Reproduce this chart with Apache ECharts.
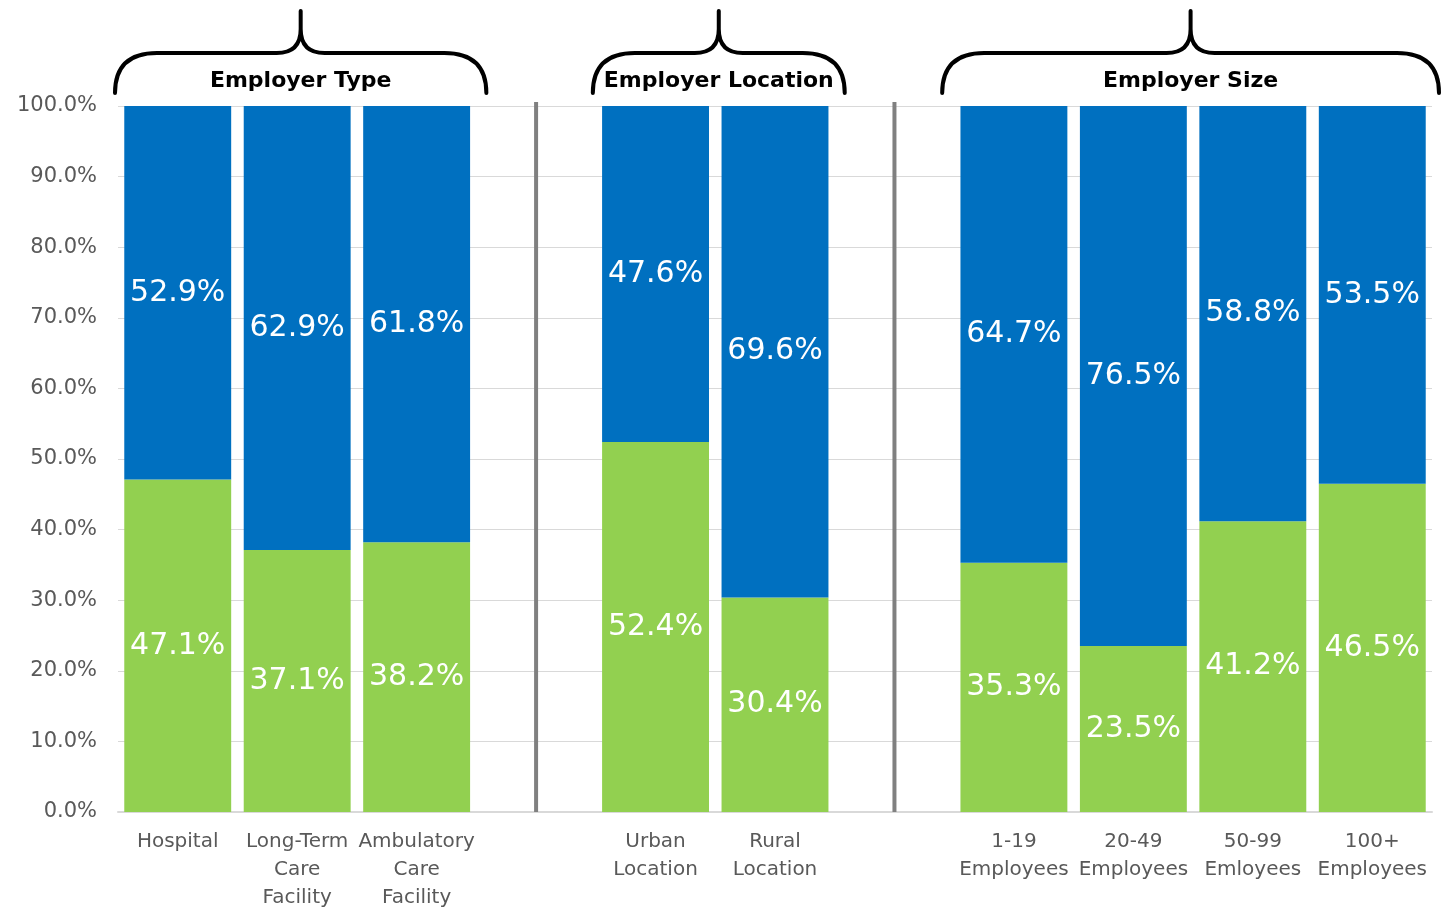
<!DOCTYPE html>
<html>
<head>
<meta charset="utf-8">
<script src="https://cdn.jsdelivr.net/npm/echarts@6/dist/echarts.min.js"></script>
<style>
  html, body { margin: 0; padding: 0; background: #ffffff; }
  #chart { width: 1444px; height: 907px; }
</style>
</head>
<body>
<div id="chart"></div>
<script>
// Categories; the blank entries are spacer slots holding the group dividers.
const categories = [
  'Hospital', 'Long-Term\nCare\nFacility', 'Ambulatory\nCare\nFacility',
  '',
  'Urban\nLocation', 'Rural\nLocation',
  ' ',
  '1-19\nEmployees', '20-49\nEmployees', '50-99\nEmloyees', '100+\nEmployees'
];

// Lower (green) and upper (blue) shares, in percent.
const greenValues = [47.1, 37.1, 38.2, null, 52.4, 30.4, null, 35.3, 23.5, 41.2, 46.5];
const blueValues  = [52.9, 62.9, 61.8, null, 47.6, 69.6, null, 64.7, 76.5, 58.8, 53.5];

// Y-axis ticks (percent).
const yTicks = [0, 10, 20, 30, 40, 50, 60, 70, 80, 90, 100];

// Group headings and the first/last category index each one spans.
const groupTitles = ['Employer Type', 'Employer Location', 'Employer Size'];
const groupStart = [0, 4, 7];
const groupEnd = [2, 5, 10];

// Spacer slots where divider lines are drawn.
const dividerSlots = [3, 6];

const FONT = 'DejaVu Sans';
const chart = echarts.init(document.getElementById('chart'), null, { renderer: 'canvas' });

const labelStyle = {
  show: true,
  position: 'inside',
  color: '#ffffff',
  fontFamily: FONT,
  fontSize: 30,
  formatter: p => (p.value == null ? '' : p.value.toFixed(1) + '%')
};

// Curly brace outline: ends at yb, shoulders at yh, tip at yt.
function bracePath(L, R, P, yb, yh, yt) {
  const r = 42, c = 24;
  return [
    'M', L, yb,
    'Q', L, yh, L + r, yh,
    'L', P - c, yh,
    'Q', P, yh, P, yh - c,
    'L', P, yt,
    'M', P, yt,
    'L', P, yh - c,
    'Q', P, yh, P + c, yh,
    'L', R - r, yh,
    'Q', R, yh, R, yb
  ].join(' ');
}

const bracePads = [[3, 10], [3, 10], [12, 7]];

const option = {
  animation: false,
  backgroundColor: '#ffffff',
  grid: { left: 118, right: 12, top: 106, bottom: 95, containLabel: false, outerBoundsMode: 'none' },
  xAxis: {
    type: 'category',
    data: categories,
    axisTick: { show: false },
    axisLine: { show: true, lineStyle: { color: '#d9d9d9', width: 2 } },
    axisLabel: {
      interval: 0,
      margin: 16,
      color: '#595959',
      fontFamily: FONT,
      fontSize: 20,
      lineHeight: 28
    }
  },
  yAxis: {
    type: 'value',
    min: yTicks[0],
    max: yTicks[yTicks.length - 1],
    interval: yTicks[1] - yTicks[0],
    axisLine: { show: false },
    axisTick: { show: false },
    splitLine: { lineStyle: { color: '#d9d9d9', width: 1 } },
    axisLabel: {
      margin: 21,
      color: '#595959',
      fontFamily: FONT,
      fontSize: 21,
      formatter: v => v.toFixed(1) + '%'
    }
  },
  series: [
    {
      name: 'Lower share',
      type: 'bar',
      stack: 'total',
      data: greenValues,
      barCategoryGap: '10.5%',
      itemStyle: { color: '#92d050' },
      label: labelStyle
    },
    {
      name: 'Upper share',
      type: 'bar',
      stack: 'total',
      data: blueValues,
      barCategoryGap: '10.5%',
      itemStyle: { color: '#0070c0' },
      label: labelStyle
    },
    {
      // vertical dividers between the groups
      name: 'Dividers',
      type: 'custom',
      silent: true,
      clip: false,
      data: dividerSlots.map(i => [i]),
      encode: { x: 0 },
      renderItem: (params, api) => {
        const idx = api.value(0);
        const t = api.coord([idx, yTicks[yTicks.length - 1]]);
        const b = api.coord([idx, yTicks[0]]);
        return {
          type: 'line',
          shape: { x1: t[0], y1: t[1] - 4, x2: b[0], y2: b[1] },
          style: { stroke: '#808080', lineWidth: 4 }
        };
      }
    },
    {
      // braces and headings over each group
      name: 'Group headings',
      type: 'custom',
      silent: true,
      clip: false,
      data: groupStart.map((s, k) => [s, groupEnd[k], k]),
      encode: { x: [0, 1] },
      renderItem: (params, api) => {
        const k = api.value(2);
        const w = api.size([1, 0])[0];
        const top = api.coord([api.value(0), yTicks[yTicks.length - 1]])[1];
        const L = api.coord([api.value(0), 0])[0] - w / 2 - bracePads[k][0];
        const R = api.coord([api.value(1), 0])[0] + w / 2 + bracePads[k][1];
        const P = (L + R) / 2;
        return {
          type: 'group',
          children: [
            {
              type: 'path',
              shape: { pathData: bracePath(L, R, P, top - 13, top - 53, top - 95) },
              style: { fill: 'none', stroke: '#000000', lineWidth: 4, lineCap: 'round', lineJoin: 'round' }
            },
            {
              type: 'text',
              x: P,
              y: top - 25,
              style: {
                text: groupTitles[k],
                fill: '#000000',
                font: 'bold 22px "' + FONT + '"',
                align: 'center',
                verticalAlign: 'middle'
              }
            }
          ]
        };
      }
    }
  ]
};

chart.setOption(option);
</script>
</body>
</html>
